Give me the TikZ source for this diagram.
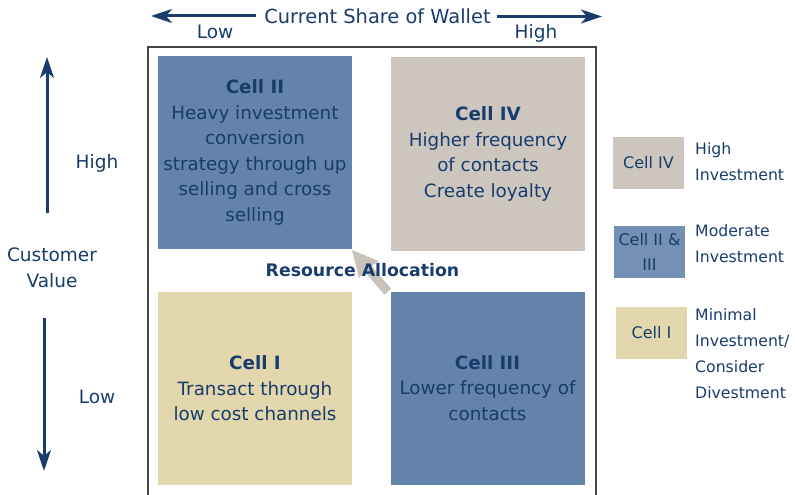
\documentclass[tikz,border=0pt]{standalone}
\usepackage{fontspec}
\setmainfont{DejaVu Sans}
\usetikzlibrary{arrows.meta}
\definecolor{navy}{RGB}{24,60,108}
\definecolor{cellblue}{RGB}{99,131,170}
\definecolor{legblue}{RGB}{117,144,181}
\definecolor{cellgrey}{RGB}{205,198,191}
\definecolor{celltan}{RGB}{226,214,173}
\definecolor{framegrey}{RGB}{70,70,70}
\definecolor{arrowgrey}{RGB}{200,194,186}
\tikzset{
  cellbox/.style={minimum width=194pt, minimum height=193pt, inner sep=0pt, align=center, text=navy,
    font=\fontsize{18.3}{25.5}\selectfont},
  legbox/.style={minimum width=71pt, minimum height=52pt, inner sep=0pt, align=center, text=navy,
    font=\fontsize{16}{25}\selectfont},
  legtext/.style={anchor=west, inner sep=0pt, align=left, text=navy,
    font=\fontsize{15.7}{26}\selectfont},
  axistext/.style={inner sep=0pt, text=navy, font=\fontsize{18.5}{25.5}\selectfont, align=center},
  axisarrow/.style={draw=navy, line width=3pt, -{Stealth[length=21pt,width=14pt,inset=6pt]}}
}
\begin{document}
\begin{tikzpicture}[x=1pt,y=-1pt]
\useasboundingbox (0,0) rectangle (795,495);
% frame
\draw[framegrey, line width=1.6pt] (148,500) -- (148,47) -- (596,47) -- (596,500);
% cells
\node[cellbox, fill=cellblue] (c2) at (255,152.5) {\textbf{Cell II}\\Heavy investment\\conversion\\strategy through up\\selling and cross\\selling};
\node[cellbox, fill=cellgrey] (c4) at (488,154) {\textbf{Cell IV}\\Higher frequency\\of contacts\\Create loyalty};
\node[cellbox, fill=celltan] (c1) at (255,388.5) {\textbf{Cell I}\\Transact through\\low cost channels};
\node[cellbox, fill=cellblue] (c3) at (487.5,388) {\textbf{Cell III}\\Lower frequency of\\contacts};
% grey block arrow
\fill[arrowgrey] (352,250) -- (359.0,278.0) -- (364.9,271.9) -- (384.4,294.6) -- (391.2,288.8) -- (371.7,266.1) -- (378.4,261.0) -- cycle;
\node[text=navy, inner sep=0pt, font=\fontsize{17.3}{20}\selectfont\bfseries] (res) at (362.5,270) {Resource Allocation};
% top axis
\node[axistext, font=\fontsize{19.4}{25}\selectfont] (title) at (377.5,16) {Current Share of Wallet};
\coordinate (tl) at (151,16);
\coordinate (tr) at (602,16.5);
\draw[axisarrow] ([xshift=-8pt]title.west) -- (tl);
\draw[axisarrow] ([xshift=6pt,yshift=-0.5pt]title.east) -- (tr);
\node[axistext] (lowx) at (215,32) {Low};
\node[axistext] (highx) at (536,33) {High};
% left axis
\node[axistext] (cv) at (52,268) {Customer\\Value};
\coordinate (upstart) at (47,213);
\coordinate (uptip) at (47,57);
\coordinate (dnstart) at (44,318);
\coordinate (dntip) at (44,471);
\draw[axisarrow] (upstart) -- (uptip);
\draw[axisarrow] (dnstart) -- (dntip);
\node[axistext] (highy) at (97,163) {High};
\node[axistext] (lowy) at (97,397) {Low};
% legend
\node[legbox, fill=cellgrey] (l4) at (648.5,163) {Cell IV};
\node[legbox, fill=legblue] (l23) at (649.5,252) {Cell II \&\\III};
\node[legbox, fill=celltan] (l1) at (651.5,333) {Cell I};
\node[legtext] (t4) at (695,162) {High\\Investment};
\node[legtext] (t23) at (695,244) {Moderate\\Investment};
\node[legtext] (t1) at (695,354) {Minimal\\Investment/\\Consider\\Divestment};
\end{tikzpicture}
\end{document}
